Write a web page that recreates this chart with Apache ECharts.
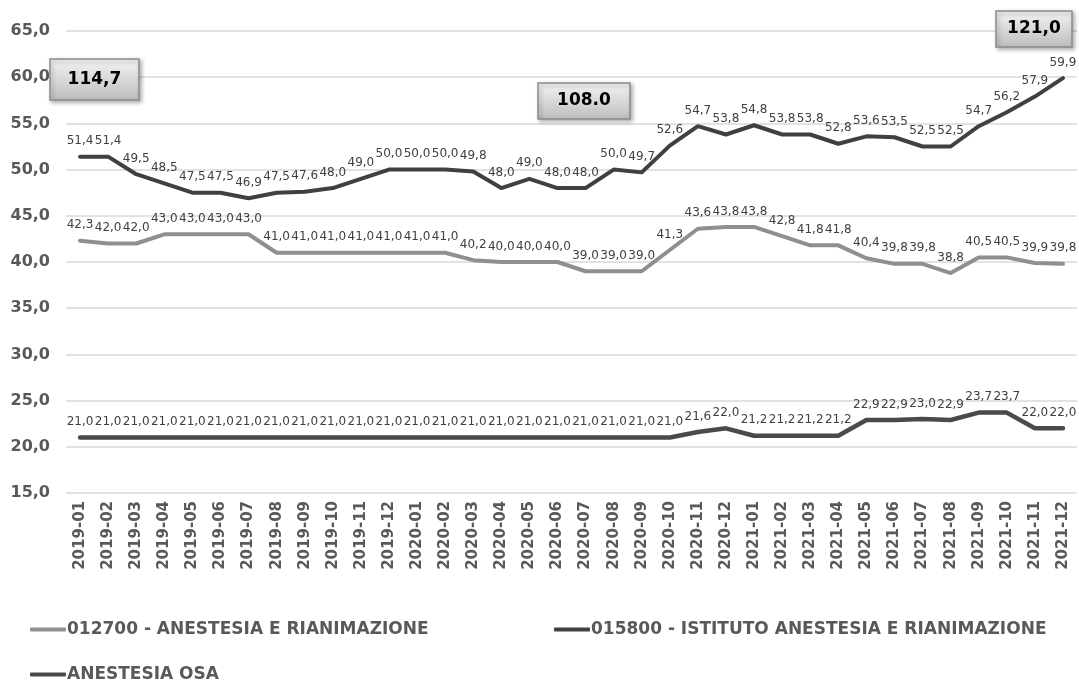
<!DOCTYPE html>
<html>
<head>
<meta charset="utf-8">
<script src="https://cdn.jsdelivr.net/npm/echarts@6/dist/echarts.min.js"></script>
<style>
html,body{margin:0;padding:0;background:#fff;}
#chart{width:1079px;height:682px;}
</style>
</head>
<body>
<div id="chart"></div>
<script>
const categories = [
  '2019-01','2019-02','2019-03','2019-04','2019-05','2019-06','2019-07','2019-08','2019-09','2019-10','2019-11','2019-12',
  '2020-01','2020-02','2020-03','2020-04','2020-05','2020-06','2020-07','2020-08','2020-09','2020-10','2020-11','2020-12',
  '2021-01','2021-02','2021-03','2021-04','2021-05','2021-06','2021-07','2021-08','2021-09','2021-10','2021-11','2021-12'
];
const seriesNames = [
  '012700 - ANESTESIA E RIANIMAZIONE',
  '015800 - ISTITUTO ANESTESIA E RIANIMAZIONE',
  'ANESTESIA OSA'
];
const anestesiaRianimazione = [
  42.3, 42.0, 42.0, 43.0, 43.0, 43.0, 43.0, 41.0, 41.0, 41.0, 41.0, 41.0,
  41.0, 41.0, 40.2, 40.0, 40.0, 40.0, 39.0, 39.0, 39.0, 41.3, 43.6, 43.8,
  43.8, 42.8, 41.8, 41.8, 40.4, 39.8, 39.8, 38.8, 40.5, 40.5, 39.9, 39.8
];
const istitutoAnestesia = [
  51.4, 51.4, 49.5, 48.5, 47.5, 47.5, 46.9, 47.5, 47.6, 48.0, 49.0, 50.0,
  50.0, 50.0, 49.8, 48.0, 49.0, 48.0, 48.0, 50.0, 49.7, 52.6, 54.7, 53.8,
  54.8, 53.8, 53.8, 52.8, 53.6, 53.5, 52.5, 52.5, 54.7, 56.2, 57.9, 59.9
];
const anestesiaOsa = [
  21.0, 21.0, 21.0, 21.0, 21.0, 21.0, 21.0, 21.0, 21.0, 21.0, 21.0, 21.0,
  21.0, 21.0, 21.0, 21.0, 21.0, 21.0, 21.0, 21.0, 21.0, 21.0, 21.6, 22.0,
  21.2, 21.2, 21.2, 21.2, 22.9, 22.9, 23.0, 22.9, 23.7, 23.7, 22.0, 22.0
];
const yTicks = { min: 15, max: 65, interval: 5 };
const annotations = ['114,7', '108.0', '121,0'];

const fmt = v => Number(v).toFixed(1).replace('.', ',');
const FONT = 'DejaVu Sans, Verdana, sans-serif';

function lineSeries(name, data, color, width) {
  return {
    name: name,
    type: 'line',
    data: data,
    symbol: 'circle',
    symbolSize: 1,
    showSymbol: true,
    itemStyle: { color: color },
    lineStyle: { color: color, width: width, cap: 'round', join: 'round' },
    label: {
      show: true,
      position: 'top',
      distance: 9,
      fontFamily: FONT,
      fontSize: 12,
      color: '#404040',
      formatter: p => fmt(p.value)
    },
    labelLayout: { hideOverlap: false },
    emphasis: { disabled: true },
    animation: false
  };
}

function box(x, y, w, h, text) {
  return [
    {
      type: 'rect',
      z: 100,
      shape: { x: x, y: y, width: w, height: h },
      style: {
        fill: new echarts.graphic.LinearGradient(0, 0, 0, 1, [
          { offset: 0, color: '#f4f4f4' },
          { offset: 1, color: '#bdbdbd' }
        ]),
        stroke: '#8c8c8c',
        lineWidth: 1.5,
        shadowBlur: 4,
        shadowOffsetX: 2,
        shadowOffsetY: 2,
        shadowColor: 'rgba(0,0,0,0.3)'
      }
    },
    {
      type: 'text',
      z: 101,
      x: x + w / 2,
      y: y + h / 2,
      style: {
        text: text,
        fontFamily: FONT,
        fontWeight: 'bold',
        fontSize: 17,
        fill: '#000',
        align: 'center',
        verticalAlign: 'middle'
      }
    }
  ];
}

const legendText = { fontFamily: FONT, fontWeight: 'bold', fontSize: 17, color: '#595959', padding: [0, 0, 0, -4] };

const chart = echarts.init(document.getElementById('chart'));
chart.setOption({
  backgroundColor: '#fff',
  animation: false,
  grid: { left: 66, right: 2, top: 31, bottom: 189, containLabel: false },
  xAxis: {
    type: 'category',
    data: categories,
    boundaryGap: true,
    axisLine: { show: false },
    axisTick: { show: false },
    axisLabel: {
      rotate: 90,
      interval: 0,
      margin: 8,
      fontFamily: FONT,
      fontWeight: 'bold',
      fontSize: 15,
      color: '#595959'
    },
    splitLine: { show: false }
  },
  yAxis: {
    type: 'value',
    min: yTicks.min,
    max: yTicks.max,
    interval: yTicks.interval,
    axisLine: { show: false },
    axisTick: { show: false },
    axisLabel: {
      margin: 16,
      fontFamily: FONT,
      fontWeight: 'bold',
      fontSize: 16,
      color: '#595959',
      formatter: v => fmt(v)
    },
    splitLine: { show: true, lineStyle: { color: '#d9d9d9', width: 1.5 } }
  },
  legend: [
    { data: [seriesNames[0]], left: 25, top: 616, icon: 'roundRect', itemWidth: 36, itemHeight: 4, textStyle: legendText },
    { data: [seriesNames[1]], left: 549, top: 616, icon: 'roundRect', itemWidth: 36, itemHeight: 4, textStyle: legendText },
    { data: [seriesNames[2]], left: 25, top: 661, icon: 'roundRect', itemWidth: 36, itemHeight: 4, textStyle: legendText }
  ],
  series: [
    lineSeries(seriesNames[0], anestesiaRianimazione, '#8f8f8f', 4),
    lineSeries(seriesNames[1], istitutoAnestesia, '#404040', 4),
    lineSeries(seriesNames[2], anestesiaOsa, '#4a4a4a', 4.5)
  ],
  graphic: [].concat(
    box(50, 59, 89, 41, annotations[0]),
    box(538, 83, 92, 36, annotations[1]),
    box(996, 11, 76, 36, annotations[2])
  )
});
</script>
</body>
</html>
